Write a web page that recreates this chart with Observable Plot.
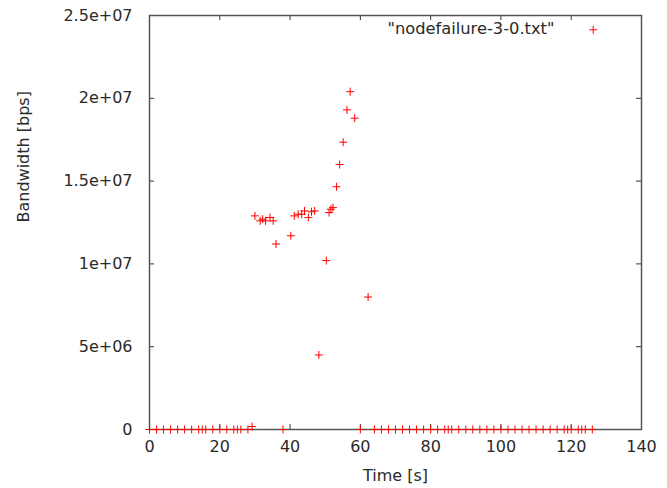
<!DOCTYPE html>
<html><head><meta charset="utf-8">
<script src="https://cdn.jsdelivr.net/npm/d3@7"></script>
<script src="https://cdn.jsdelivr.net/npm/@observablehq/plot@0.6"></script>
<style>body{margin:0;background:#fff}</style>
</head><body><div id="chart"></div>
<script>
const seriesName = "\"nodefailure-3-0.txt\"";
const xLabel = "Time [s]";
const yLabel = "Bandwidth [bps]";
const xTicks = [0, 20, 40, 60, 80, 100, 120, 140];
const yTicks = [0, 5e6, 1e7, 1.5e7, 2e7, 2.5e7];

// time (s)
const timeS = [
  0, 2, 4, 6, 8, 10, 12, 14, 15, 16, 18, 20, 22, 24, 25, 26, 28,
  29.2, 30.0, 31.5, 32.2, 33.0, 34.3, 35.2, 36.0, 38,
  40.2, 41.2, 42.3, 43.3, 44.1, 45.2, 46.1, 47.0, 48.2,
  50.3, 51.1, 51.6, 52.2, 53.2, 54.1, 55.1, 56.2, 57.1, 58.4, 60, 62.2,
  64, 66, 68, 70, 72, 74, 76, 78, 80, 82, 84, 85, 86, 88, 90, 92, 94, 96, 98,
  100, 102, 104, 106, 108, 110, 112, 114, 116, 118, 119, 120, 122, 123, 124, 126
];
// bandwidth (bps)
const bandwidthBps = [
  0, 0, 0, 0, 0, 0, 0, 0, 0, 0, 0, 0, 0, 0, 0, 0, 0,
  0.18e6, 12.9e6, 12.6e6, 12.7e6, 12.6e6, 12.8e6, 12.6e6, 11.2e6, 0,
  11.7e6, 12.9e6, 13.0e6, 13.0e6, 13.2e6, 12.8e6, 13.15e6, 13.2e6, 4.5e6,
  10.2e6, 13.1e6, 13.3e6, 13.4e6, 14.66e6, 16.0e6, 17.35e6, 19.3e6, 20.4e6, 18.8e6, 0, 8.0e6,
  0, 0, 0, 0, 0, 0, 0, 0, 0, 0, 0, 0, 0, 0, 0, 0, 0, 0, 0,
  0, 0, 0, 0, 0, 0, 0, 0, 0, 0, 0, 0, 0, 0, 0, 0
];

const data = timeS.map((t, i) => ({t, bw: bandwidthBps[i]}));

function gp(d) {
  if (d === 0) return "0";
  const e = Math.floor(Math.log10(d));
  const m = +(d / Math.pow(10, e)).toFixed(4);
  return `${m}e+${String(e).padStart(2, "0")}`;
}

const W = 667, H = 488;
const mL = 149, mR = 26, mT = 15, mB = 59;
const iW = W - mL - mR, iH = H - mT - mB;
const ink = "#2a2a2a";
const red = "#ff0000";

const chart = Plot.plot({
  width: W, height: H,
  marginLeft: mL, marginRight: mR, marginTop: mT, marginBottom: mB,
  style: {fontFamily: "DejaVu Sans", fontSize: "16px", color: ink, background: "#fff"},
  x: {domain: [0, 140]},
  y: {domain: [0, 2.5e7]},
  marks: [
    Plot.tickX(xTicks, {x: d => d, stroke: "#333", insetTop: iH - 5}),
    Plot.tickX(xTicks, {x: d => d, stroke: "#333", insetBottom: iH - 5}),
    Plot.tickY(yTicks, {y: d => d, stroke: "#333", insetRight: iW - 5}),
    Plot.tickY(yTicks, {y: d => d, stroke: "#333", insetLeft: iW - 5}),
    Plot.frame({stroke: "#555", strokeWidth: 1.5}),
    Plot.axisX({ticks: xTicks, tickSize: 0, tickPadding: 11, tickFormat: d => String(d), label: null, fill: ink}),
    Plot.axisY({ticks: yTicks, tickSize: 0, tickPadding: 17, tickFormat: gp, label: null, fill: ink}),
    Plot.dot(data, {x: "t", y: "bw", symbol: "plus", r: 2.7, stroke: red, strokeWidth: 1}),
    Plot.text([seriesName], {frameAnchor: "top-right", text: d => d, textAnchor: "end", lineAnchor: "middle", dx: -(iW - 405), dy: 13, fill: ink, fontSize: 16.3}),
    Plot.dot([seriesName], {frameAnchor: "top-right", symbol: "plus", r: 2.7, stroke: red, fill: "none", strokeWidth: 1, dx: -48.3, dy: 14.3}),
    Plot.text([xLabel], {frameAnchor: "bottom", text: d => d, lineAnchor: "middle", dy: 46, fill: ink}),
    Plot.text([yLabel], {frameAnchor: "left", text: d => d, lineAnchor: "middle", rotate: -90, dx: -126, fill: ink})
  ]
});
document.getElementById("chart").appendChild(chart);
</script>
</body></html>
